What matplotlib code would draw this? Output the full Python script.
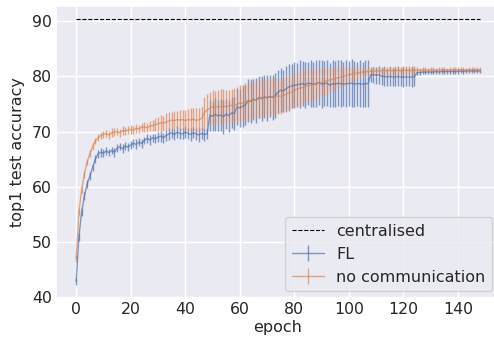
import matplotlib
matplotlib.use("Agg")
import matplotlib.pyplot as plt
import seaborn as sns
import numpy as np

# Data
epochs = np.arange(149)
centralised = 90.35

fl_mean = [
    42.9, 51.0, 55.5, 58.3, 60.5, 62.0, 63.5, 65.0, 66.0, 66.3,
    66.1, 66.5, 66.2, 66.6, 66.3, 67.0, 67.3, 66.9, 67.4, 67.2,
    67.6, 67.9, 67.7, 68.1, 67.9, 68.4, 68.8, 68.5, 68.9, 68.7,
    69.0, 69.2, 68.9, 69.3, 69.6, 69.8, 69.5, 69.9, 69.7, 69.6,
    69.9, 69.7, 69.5, 69.8, 69.6, 69.4, 69.7, 69.5, 69.6, 73.0,
    72.8, 73.1, 72.9, 73.0, 72.7, 73.2, 72.9, 73.4, 73.3, 74.5,
    74.3, 74.6, 74.8, 75.6, 75.5, 75.9, 75.7, 76.2, 76.0, 76.3,
    76.1, 76.4, 76.2, 76.5, 77.2, 77.5, 77.4, 77.8, 78.1, 78.3,
    78.4, 78.5, 78.6, 78.7, 78.5, 78.8, 78.7, 78.6, 78.7, 78.9,
    78.6, 78.7, 78.8, 78.4, 78.7, 78.6, 78.8, 78.7, 78.6, 78.7,
    78.7, 78.8, 78.6, 78.7, 78.7, 78.6, 78.7, 78.7, 80.3, 80.3,
    80.2, 80.3, 80.0, 80.0, 79.9, 80.0, 79.9, 79.9, 80.0, 79.9,
    79.9, 79.9, 79.9, 79.9, 79.9, 80.7, 80.7, 80.8, 80.8, 80.8,
    80.8, 80.8, 80.9, 80.8, 80.9, 80.9, 80.9, 80.9, 80.9, 80.9,
    80.9, 81.0, 80.9, 81.0, 81.0, 81.0, 81.0, 81.0, 81.0,
]
fl_err = [
    0.6, 0.7, 0.7, 0.7, 0.7, 0.7, 0.7, 0.7, 0.7, 0.8,
    0.7, 0.8, 0.6, 0.7, 0.8, 0.7, 0.6, 0.8, 0.7, 0.7,
    0.8, 0.7, 0.9, 0.7, 0.8, 0.7, 0.8, 0.9, 0.7, 0.8,
    0.9, 1.0, 0.9, 1.0, 1.1, 0.9, 1.0, 1.1, 1.0, 1.0,
    1.1, 1.0, 1.2, 1.0, 1.1, 1.2, 1.0, 1.1, 1.0, 2.8,
    2.7, 3.0, 2.8, 2.9, 3.1, 2.7, 2.9, 2.8, 3.0, 3.3,
    3.5, 3.8, 3.6, 3.9, 4.0, 3.7, 4.1, 3.8, 4.0, 3.9,
    4.2, 3.8, 4.0, 4.1, 3.9, 4.0, 3.8, 4.1, 4.2, 4.0,
    4.2, 4.0, 4.3, 4.1, 4.2, 3.9, 4.3, 4.1, 4.2, 4.0,
    4.3, 4.1, 4.2, 4.0, 4.3, 4.2, 4.1, 4.3, 4.0, 4.2,
    4.1, 4.3, 4.2, 4.0, 4.2, 4.1, 4.3, 4.2, 1.3, 1.4,
    1.5, 1.6, 1.5, 1.7, 1.6, 1.8, 1.7, 1.6, 1.8, 1.7,
    1.8, 1.6, 1.7, 1.8, 1.7, 0.4, 0.4, 0.4, 0.4, 0.4,
    0.4, 0.4, 0.4, 0.4, 0.4, 0.4, 0.4, 0.4, 0.4, 0.4,
    0.4, 0.4, 0.4, 0.4, 0.4, 0.4, 0.4, 0.4, 0.4,
]

nc_mean = [
    47.0, 55.5, 59.5, 62.3, 64.5, 66.0, 67.3, 68.3, 68.9, 69.3,
    69.5, 69.7, 69.4, 69.8, 69.9, 70.0, 69.8, 70.2, 70.1, 70.3,
    70.4, 70.3, 70.6, 70.5, 70.8, 70.9, 70.7, 71.0, 71.1, 71.3,
    71.4, 71.6, 71.5, 71.8, 71.9, 72.1, 72.0, 72.2, 72.1, 72.2,
    72.0, 72.2, 72.1, 72.3, 72.0, 72.2, 72.4, 73.5, 73.9, 74.3,
    74.5, 74.4, 74.6, 74.5, 74.7, 74.5, 74.6, 74.8, 74.7, 75.0,
    75.2, 75.1, 75.4, 75.3, 75.6, 75.8, 75.7, 76.0, 76.2, 76.1,
    76.3, 76.2, 76.4, 76.3, 76.5, 76.4, 76.6, 76.8, 77.0, 77.2,
    77.5, 77.7, 77.9, 78.0, 78.2, 78.3, 78.4, 78.5, 78.6, 78.8,
    78.9, 79.1, 79.2, 79.4, 79.5, 79.7, 79.8, 79.9, 80.0, 80.2,
    80.3, 80.4, 80.5, 80.6, 80.7, 80.8, 80.8, 80.9, 80.9, 81.0,
    81.0, 81.0, 81.0, 81.1, 81.0, 81.1, 81.0, 81.1, 81.1, 81.0,
    81.1, 81.1, 81.1, 81.1, 81.1, 81.2, 81.1, 81.2, 81.2, 81.1,
    81.2, 81.2, 81.1, 81.2, 81.2, 81.2, 81.1, 81.2, 81.2, 81.2,
    81.2, 81.2, 81.2, 81.1, 81.2, 81.2, 81.2, 81.2, 81.2,
]
nc_err = [
    0.6, 0.6, 0.6, 0.6, 0.6, 0.6, 0.6, 0.6, 0.6, 0.6,
    0.7, 0.6, 0.7, 0.8, 0.7, 0.6, 0.7, 0.8, 0.7, 0.7,
    0.8, 0.7, 0.8, 0.7, 0.8, 0.9, 0.8, 0.9, 1.0, 1.1,
    1.2, 1.4, 1.3, 1.5, 1.6, 1.5, 1.7, 1.6, 1.8, 1.7,
    2.0, 1.9, 2.1, 2.0, 2.2, 2.0, 2.1, 2.8, 3.0, 2.9,
    3.1, 3.0, 2.9, 3.2, 3.0, 3.1, 2.9, 3.0, 3.2, 3.1,
    3.3, 3.2, 3.4, 3.3, 3.2, 3.4, 3.3, 3.5, 3.3, 3.2,
    3.4, 3.3, 3.2, 3.4, 3.3, 3.2, 3.1, 3.3, 3.2, 3.0,
    3.1, 2.9, 3.0, 3.1, 2.8, 3.0, 2.9, 2.7, 2.8, 2.6,
    2.5, 2.4, 2.3, 2.2, 2.1, 2.0, 1.9, 1.8, 1.7, 1.6,
    1.5, 1.4, 1.3, 1.0, 0.9, 0.8, 0.8, 0.8, 0.8, 0.8,
    0.8, 0.8, 0.8, 0.8, 0.8, 0.8, 0.8, 0.8, 0.8, 0.8,
    0.8, 0.8, 0.8, 0.8, 0.8, 0.45, 0.45, 0.45, 0.45, 0.45,
    0.45, 0.45, 0.45, 0.45, 0.45, 0.45, 0.45, 0.45, 0.45, 0.45,
    0.45, 0.45, 0.45, 0.45, 0.45, 0.45, 0.45, 0.45, 0.45,
]

# Style
sns.set_theme(style="darkgrid")
plt.rcParams['font.family'] = ['DejaVu Sans']
colors = sns.color_palette("deep")

fig = plt.figure(figsize=(4.94, 3.38), dpi=100)
ax = fig.add_axes([56 / 494, 40 / 338, 444 / 494, 292 / 338])

ax.plot([epochs[0], epochs[-1]], [centralised, centralised], color="black",
        linestyle="--", linewidth=0.8, label="centralised")
ax.errorbar(epochs, fl_mean, yerr=fl_err, color=colors[0], linewidth=1.0,
            elinewidth=1.0, alpha=0.7, label="FL")
ax.errorbar(epochs, nc_mean, yerr=nc_err, color=colors[1], linewidth=1.0,
            elinewidth=1.0, alpha=0.7, label="no communication")

ax.set_xlabel("epoch", fontsize=11.5, labelpad=2)
ax.set_ylabel("top1 test accuracy", fontsize=11.5, labelpad=5)
ax.tick_params(labelsize=11.3, length=0, pad=3)
ax.set_xticks([0, 20, 40, 60, 80, 100, 120, 140])

ax.legend(loc="lower right", bbox_to_anchor=(492 / 494, 47 / 338),
          bbox_transform=fig.transFigure, borderaxespad=0, fontsize=11.5)

plt.savefig("out.png", dpi=100)
